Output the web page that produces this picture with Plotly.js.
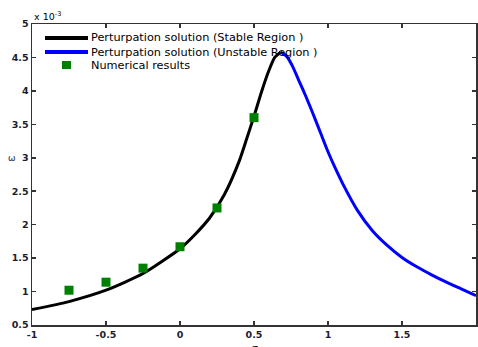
<!DOCTYPE html>
<html><head><meta charset="utf-8">
<script src="https://cdn.plot.ly/plotly-3.0.1.min.js"></script>
<style>html,body{margin:0;padding:0;background:#fff}#chart{width:478px;height:347px}</style>
</head><body><div id="chart"></div>
<script>
// Perturbation solution, stable region (values in units of 1e-3)
const stableX = [-1, -0.75, -0.5, -0.25, 0, 0.1, 0.2, 0.3, 0.4, 0.45, 0.5, 0.55, 0.6, 0.64, 0.68];
const stableY = [0.73, 0.85, 1.02, 1.27, 1.64, 1.85, 2.1, 2.45, 2.95, 3.28, 3.62, 3.98, 4.3, 4.5, 4.58];
// Perturbation solution, unstable region
const unstableX = [0.68, 0.72, 0.76, 0.8, 0.85, 0.9, 0.95, 1.0, 1.05, 1.1, 1.2, 1.3, 1.4, 1.5, 1.6, 1.7, 1.8, 1.9, 2.0];
const unstableY = [4.58, 4.52, 4.37, 4.17, 3.92, 3.65, 3.37, 3.09, 2.84, 2.61, 2.21, 1.91, 1.69, 1.51, 1.37, 1.25, 1.14, 1.04, 0.94];
// Numerical results
const numX = [-0.75, -0.5, -0.25, 0, 0.25, 0.5];
const numY = [1.02, 1.14, 1.35, 1.67, 2.25, 3.6];
const xTicks = [-1, -0.5, 0, 0.5, 1, 1.5, 2];
const xTickText = ['-1', '-0.5', '0', '0.5', '1', '1.5', '2'];
const yTicks = [0.5, 1, 1.5, 2, 2.5, 3, 3.5, 4, 4.5, 5];
const yTickText = ['0.5', '1', '1.5', '2', '2.5', '3', '3.5', '4', '4.5', '5'];
const legendNames = ['Perturpation solution (Stable Region )', 'Perturpation solution (Unstable Region )', 'Numerical results'];
const colors = ['#000000', '#0000ff', '#008000'];

const FF = 'DejaVu Sans, Verdana, sans-serif';
const traces = [
  {x: stableX, y: stableY, mode: 'lines', name: legendNames[0],
   line: {color: colors[0], width: 3, shape: 'spline', smoothing: 0.6}},
  {x: unstableX, y: unstableY, mode: 'lines', name: legendNames[1],
   line: {color: colors[1], width: 3, shape: 'spline', smoothing: 0.6}},
  {x: numX, y: numY, mode: 'markers', name: legendNames[2],
   marker: {symbol: 'square', size: 9, color: colors[2]}}
];
const axisCommon = {showgrid: false, zeroline: false, showline: true, linecolor: '#333', linewidth: 1.5,
  mirror: 'ticks', ticks: 'inside', ticklen: 4, tickcolor: '#333', tickwidth: 1.5,
  tickfont: {family: FF, size: 9.5, color: '#1c1c30', weight: 'bold'}};

// custom legend (positions in paper coordinates of the plot area)
const W = 444, H = 301; // plot area size in px
const px = v => (v - 32) / W, py = v => (325 - v) / H;
const legRows = [38, 52, 65];
const shapes = [
  {type: 'line', xref: 'paper', yref: 'paper', x0: px(45), x1: px(88), y0: py(legRows[0]), y1: py(legRows[0]), line: {color: colors[0], width: 4}},
  {type: 'line', xref: 'paper', yref: 'paper', x0: px(45), x1: px(88), y0: py(legRows[1]), y1: py(legRows[1]), line: {color: colors[1], width: 4}},
  {type: 'rect', xref: 'paper', yref: 'paper', x0: px(62), x1: px(71), y0: py(legRows[2] - 4), y1: py(legRows[2] + 4), line: {width: 0}, fillcolor: colors[2]}
];
const annotations = legendNames.map((t, i) => ({
  xref: 'paper', yref: 'paper', x: px(89), y: py(legRows[i]), xanchor: 'left', yanchor: 'middle',
  showarrow: false, text: t, font: {family: FF, size: 11.3, color: '#000'}
}));
annotations.push(
  {xref: 'paper', yref: 'paper', x: 0, y: 1, xanchor: 'left', yanchor: 'bottom', showarrow: false,
   text: 'x 10<sup>-3</sup>', font: {family: FF, size: 9.5, color: '#000'}, yshift: 0},
  {xref: 'paper', yref: 'paper', x: 0, y: 0.555, xanchor: 'right', yanchor: 'middle', showarrow: false,
   text: 'ω', font: {family: FF, size: 9, color: '#2a2a50'}, xshift: -14},
  {xref: 'paper', yref: 'paper', x: 0.5, y: 0, xanchor: 'center', yanchor: 'top', showarrow: false,
   text: 'σ', font: {family: FF, size: 11, color: '#1c1c30'}, yshift: -15}
);
const layout = {
  width: 478, height: 347,
  margin: {l: 32, r: 2, t: 24, b: 22},
  paper_bgcolor: '#fff', plot_bgcolor: '#fff',
  font: {family: FF, size: 10, color: '#000'},
  showlegend: false,
  xaxis: Object.assign({}, axisCommon, {range: [-1, 2], tickvals: xTicks, ticktext: xTickText}),
  yaxis: Object.assign({}, axisCommon, {range: [0.5, 5], tickvals: yTicks, ticktext: yTickText}),
  shapes: shapes,
  annotations: annotations
};
Plotly.newPlot('chart', traces, layout, {displayModeBar: false, staticPlot: true});
</script></body></html>
